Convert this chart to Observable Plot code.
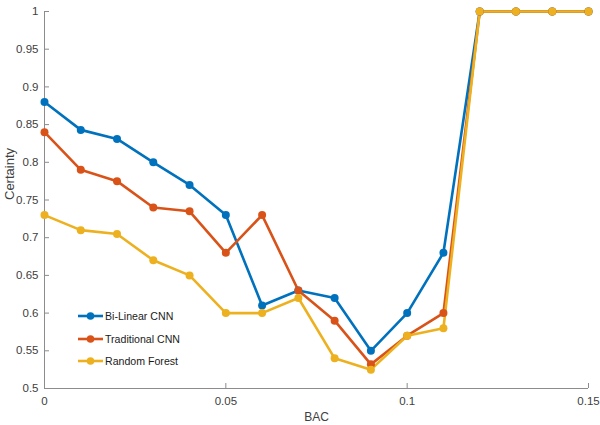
<!DOCTYPE html>
<html>
<head>
<meta charset="utf-8">
<script src="https://cdn.jsdelivr.net/npm/d3@7"></script>
<script src="https://cdn.jsdelivr.net/npm/@observablehq/plot@0.6"></script>
<style>
  body { margin: 0; background: #fff; }
  #wrap { position: relative; width: 600px; height: 425px; font-family: "Liberation Sans", Arial, sans-serif; }
  #legend { position: absolute; left: 77px; top: 305px; font-size: 10.6px; color: #1a1a1a; }
  .row { display: flex; align-items: center; height: 22.5px; }
  .row svg { margin-right: 1px; }
</style>
</head>
<body>
<div id="wrap"><div id="legend"></div></div>
<script>
const bac = [0, 0.01, 0.02, 0.03, 0.04, 0.05, 0.06, 0.07, 0.08, 0.09, 0.10, 0.11, 0.12, 0.13, 0.14, 0.15];
const biLinearCNN = [0.88, 0.843, 0.831, 0.80, 0.77, 0.73, 0.61, 0.63, 0.62, 0.55, 0.60, 0.68, 1, 1, 1, 1];
const traditionalCNN = [0.84, 0.79, 0.775, 0.74, 0.735, 0.68, 0.73, 0.63, 0.59, 0.532, 0.57, 0.60, 1, 1, 1, 1];
const randomForest = [0.73, 0.71, 0.705, 0.67, 0.65, 0.60, 0.60, 0.62, 0.54, 0.525, 0.57, 0.58, 1, 1, 1, 1];
const seriesNames = ["Bi-Linear CNN", "Traditional CNN", "Random Forest"];
const seriesColors = ["#0072BD", "#D95319", "#EDB120"];
const xTicks = [0, 0.05, 0.1, 0.15];
const yTicks = [0.5, 0.55, 0.6, 0.65, 0.7, 0.75, 0.8, 0.85, 0.9, 0.95, 1];
const xLabel = "BAC";
const yLabel = "Certainty";

const allSeries = [biLinearCNN, traditionalCNN, randomForest];
const data = allSeries.flatMap((vals, i) => vals.map((v, j) => ({x: bac[j], y: v, s: seriesNames[i]})));

const fmt = d => String(+(+d).toFixed(2));
const axisColor = "#8c8c8c";
const textColor = "#404040";

const chart = Plot.plot({
  width: 600,
  height: 425,
  marginLeft: 44,
  marginRight: 12,
  marginTop: 11,
  marginBottom: 37,
  style: {fontFamily: "Liberation Sans, Arial, sans-serif", fontSize: "11.5px", color: textColor, background: "white"},
  x: {domain: [0, 0.15]},
  y: {domain: [0.5, 1]},
  color: {domain: seriesNames, range: seriesColors},
  marks: [
    Plot.ruleX([0], {stroke: axisColor, strokeWidth: 1}),
    Plot.ruleY([0.5], {stroke: axisColor, strokeWidth: 1}),
    Plot.tickX(xTicks, {x: d => d, stroke: axisColor, insetTop: 372}),
    Plot.tickY(yTicks, {y: d => d, stroke: axisColor, insetRight: 539}),
    Plot.axisX({ticks: xTicks, tickSize: 0, tickPadding: 8, tickFormat: fmt, label: null, fill: textColor, fontSize: 11.5}),
    Plot.axisY({ticks: yTicks, tickSize: 0, tickPadding: 6, tickFormat: fmt, label: null, fill: textColor, fontSize: 11.5}),
    Plot.text([xLabel], {text: d => d, frameAnchor: "bottom", dy: 32, fontSize: 12, fill: textColor}),
    Plot.text([yLabel], {text: d => d, frameAnchor: "left", rotate: -90, dx: -35, fontSize: 13, fill: textColor}),
    Plot.line(data, {x: "x", y: "y", z: "s", stroke: "s", strokeWidth: 2.6}),
    Plot.dot(data, {x: "x", y: "y", fill: "s", r: 4})
  ]
});
const wrap = document.getElementById("wrap");
wrap.insertBefore(chart, wrap.firstChild);

const legend = document.getElementById("legend");
seriesNames.forEach((name, i) => {
  const row = document.createElement("div");
  row.className = "row";
  row.innerHTML = `<svg width="27" height="10"><line x1="1" y1="5" x2="26" y2="5" stroke="${seriesColors[i]}" stroke-width="2.6"/><circle cx="13.5" cy="5" r="3.8" fill="${seriesColors[i]}"/></svg><span>${name}</span>`;
  legend.appendChild(row);
});
</script>
</body>
</html>
